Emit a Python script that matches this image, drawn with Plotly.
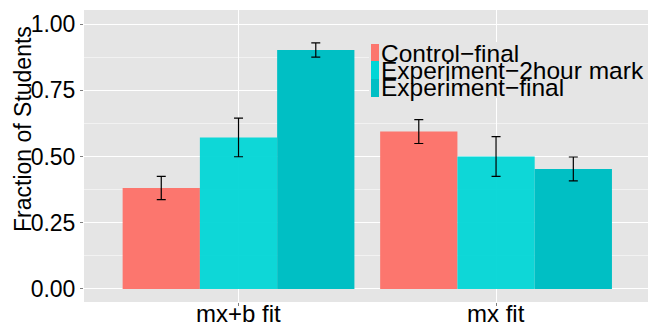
import plotly.graph_objects as go

categories = ["mx+b fit", "mx fit"]
series_names = ["Control\u2212final", "Experiment\u22122hour mark", "Experiment\u2212final"]
control_final = [0.381, 0.594]
control_final_err = [0.044, 0.045]
exp_2hour = [0.572, 0.500]
exp_2hour_err = [0.073, 0.075]
exp_final = [0.902, 0.453]
exp_final_err = [0.027, 0.045]
y_tick_vals = [0.0, 0.25, 0.5, 0.75, 1.0]
y_tick_text = ["0.00", "0.25", "0.50", "0.75", "1.00"]
y_title = "Fraction of Students"

colors = ["#FC766E", "rgba(0,214,214,0.94)", "#00BFC4"]
legend_colors = ["#FC766E", "#00D6D6", "#00BFC4"]
values = [control_final, exp_2hour, exp_final]
errors = [control_final_err, exp_2hour_err, exp_final_err]

W, H = 648, 324
ML, MR, MT, MB = 84, 0, 10, 22
FONT = "Liberation Sans, Arial, sans-serif"

fig = go.Figure()
for name, vals, errs, col in zip(series_names, values, errors, colors):
    fig.add_trace(go.Bar(
        x=categories, y=vals, name=name,
        marker=dict(color=col, line=dict(width=0)),
        error_y=dict(type="data", array=errs, visible=True,
                     color="black", thickness=1.2, width=4.5),
        showlegend=False,
    ))

panel = "#E5E5E5"
fig.update_layout(
    width=W, height=H,
    margin=dict(l=ML, r=MR, t=MT, b=MB, pad=0, autoexpand=False),
    paper_bgcolor="white", plot_bgcolor=panel,
    barmode="group", bargap=0.1, bargroupgap=0,
    font=dict(family=FONT, size=23, color="black"),
    xaxis=dict(range=[-0.6, 1.59], showgrid=True, gridcolor="white", gridwidth=1.2,
               ticks="outside", ticklen=3, tickcolor="#7F7F7F", tickwidth=1,
               showticklabels=False, zeroline=False, fixedrange=True,
               automargin=False),
    yaxis=dict(range=[-0.0495, 1.053], tickvals=y_tick_vals, ticktext=y_tick_text,
               showgrid=True, gridcolor="white", gridwidth=1.2,
               minor=dict(tickvals=[0.125, 0.375, 0.625, 0.875], showgrid=True,
                          gridcolor="#F2F2F2", gridwidth=0.8),
               ticks="outside", ticklen=3, tickcolor="#7F7F7F", tickwidth=1,
               tickfont=dict(size=23, color="black"), zeroline=False, automargin=False),
)

pw = W - ML - MR
ph = H - MT - MB
def px(x):
    return (x - ML) / pw
def py(y):
    return (H - MB - y) / ph

# x category labels
for c in categories:
    fig.add_annotation(x=c, xref="x", yref="paper", y=0, yshift=-27,
                       text=c, showarrow=False, xanchor="center", yanchor="bottom",
                       font=dict(size=24, color="black", family=FONT))

# y title
fig.add_annotation(xref="paper", yref="paper", x=px(23), y=py(129),
                   text=y_title, textangle=-90, showarrow=False,
                   xanchor="center", yanchor="middle",
                   font=dict(size=23, color="black", family=FONT))

# legend drawn inside the panel (ggplot-style, overlapping keys)
fig.add_shape(type="rect", xref="paper", yref="paper",
              x0=px(369), x1=px(648), y0=py(98), y1=py(42),
              fillcolor=panel, line=dict(width=0), layer="above")
key_tops = [44, 61, 79]
key_bots = [61, 79, 97]
text_mid = [53, 71, 88]
for name, col, t, b, m in zip(series_names, legend_colors, key_tops, key_bots, text_mid):
    fig.add_shape(type="rect", xref="paper", yref="paper",
                  x0=px(371), x1=px(379), y0=py(b), y1=py(t),
                  fillcolor=col, line=dict(width=0), layer="above")
    fig.add_annotation(xref="paper", yref="paper", x=px(379), y=py(m),
                       text=name, showarrow=False, xanchor="left", yanchor="middle",
                       font=dict(size=24.5, color="black", family=FONT))

fig.write_html("out.html", config={"displayModeBar": False},
               post_script="document.body.style.margin='0';document.body.style.overflow='hidden';")
